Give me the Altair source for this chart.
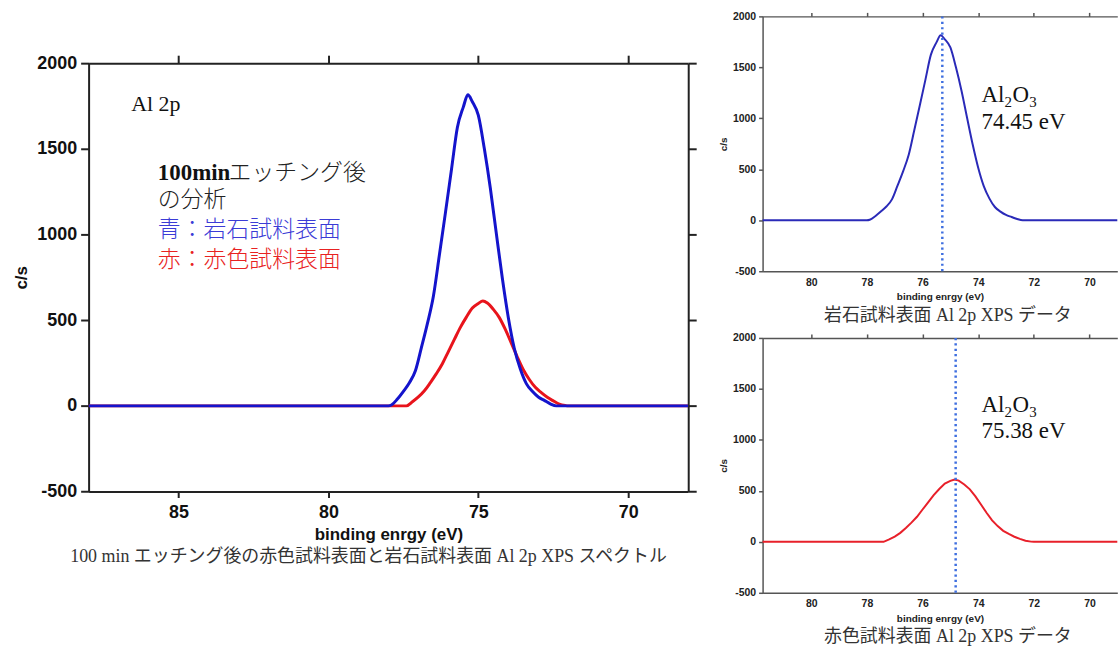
import altair as alt
import pandas as pd

# ---------------- data ----------------
blue_energy = [88.0, 78.0, 77.9, 77.7, 77.5, 77.3, 77.1, 76.9, 76.7, 76.5,
               76.3, 76.1, 75.9, 75.7, 75.5, 75.35, 75.2, 75.0, 74.8, 74.6,
               74.4, 74.2, 74.0, 73.8, 73.6, 73.4, 73.2, 73.0, 72.8, 72.6,
               72.4, 68.0]
blue_counts = [0, 0, 5, 40, 85, 135, 205, 340, 480, 640,
               880, 1125, 1375, 1625, 1745, 1815, 1775, 1695, 1500, 1270,
               1005, 745, 515, 335, 215, 130, 85, 52, 32, 12,
               0, 0]
red_energy = [88.0, 77.4, 77.2, 77.0, 76.8, 76.6, 76.4, 76.2, 76.0, 75.8,
              75.6, 75.4, 75.2, 75.0, 74.85, 74.7, 74.5, 74.3, 74.1, 73.9,
              73.7, 73.5, 73.3, 73.1, 72.9, 72.7, 72.5, 72.3, 72.1, 72.0,
              68.0]
red_counts = [0, 0, 24, 52, 88, 136, 188, 246, 317, 388,
              458, 518, 571, 598, 612, 600, 563, 515, 446, 366,
              285, 211, 154, 108, 77, 50, 29, 10, 2, 0,
              0]

main_x_ticks = [70, 75, 80, 85]
small_x_ticks = [70, 72, 74, 76, 78, 80]
y_ticks = [-500, 0, 500, 1000, 1500, 2000]

main_caption = "100 min エッチング後の赤色試料表面と岩石試料表面 Al 2p XPS スペクトル"
top_caption = "岩石試料表面 Al 2p XPS データ"
bottom_caption = "赤色試料表面 Al 2p XPS データ"

# annotation texts and their anchor positions (data coordinates)
main_note_text = ["Al 2p", "100min", "エッチング後", "の分析", "青：岩石試料表面", "赤：赤色試料表面"]
main_note_energy = [86.58, 85.69, 83.33, 85.69, 85.69, 85.69]
main_note_counts = [1721, 1318, 1318, 1162, 987, 813]

peak_line_energy = [75.29, 74.81]           # dotted markers (top, bottom panel)
peak_label_text = ["74.45 eV", "75.38 eV"]
peak_label_energy = [73.88, 73.88]
formula_counts = [1160, 1277]
ev_counts = [900, 1023]

# ---------------- styling ----------------
SANS = "Liberation Sans, Arial, sans-serif"
SERIF = "Liberation Serif, Noto Sans CJK JP, serif"
AX = "#222222"
AX2 = "#555555"
PLAIN = "'' + datum.value"

blue_df = pd.DataFrame({"energy": blue_energy, "counts": blue_counts})
red_df = pd.DataFrame({"energy": red_energy, "counts": red_counts})

# ---------------- main (left) panel ----------------
main_xs = alt.Scale(domain=[68.0, 88.0], reverse=True, nice=False, zero=False)
main_ys = alt.Scale(domain=[-500, 2000], nice=False, zero=False)

main_xaxis = alt.Axis(values=main_x_ticks, title="binding enrgy (eV)", grid=False, labelExpr=PLAIN,
                      titleFont=SANS, titleFontSize=17, titleFontWeight="bold", titleColor="#111",
                      titlePadding=5, labelFont=SANS, labelFontSize=18, labelFontWeight="bold",
                      labelColor="#111", labelPadding=6, tickSize=6, tickWidth=2, tickColor=AX,
                      domainColor=AX, domainWidth=2, labelFlush=False)
main_yaxis = alt.Axis(values=y_ticks, title="c/s", grid=False, labelExpr=PLAIN,
                      titleFont=SANS, titleFontSize=17, titleFontWeight="bold", titleColor="#111",
                      titlePadding=6, labelFont=SANS, labelFontSize=18, labelFontWeight="bold",
                      labelColor="#111", labelPadding=4, tickSize=8, tickWidth=2, tickColor=AX,
                      domainColor=AX, domainWidth=2, labelFlush=False)


def enc_main(ch, field_x="energy:Q", field_y="counts:Q"):
    return ch.encode(x=alt.X(field_x, scale=main_xs, axis=main_xaxis),
                     y=alt.Y(field_y, scale=main_ys, axis=main_yaxis))


red_main = enc_main(alt.Chart(red_df).mark_line(color="#e8141c", strokeWidth=3, clip=True,
                                                interpolate="monotone"))
blue_main = enc_main(alt.Chart(blue_df).mark_line(color="#1414cc", strokeWidth=3, clip=True,
                                                  interpolate="monotone"))

note_styles = [
    dict(font=SERIF, fontSize=22, fontWeight="normal", color="#111"),
    dict(font=SERIF, fontSize=23, fontWeight="bold", color="#111"),
    dict(font=SERIF, fontSize=23, fontWeight=300, color="#222"),
    dict(font=SERIF, fontSize=23, fontWeight=300, color="#222"),
    dict(font=SERIF, fontSize=23, fontWeight=300, color="#3b3bd6"),
    dict(font=SERIF, fontSize=23, fontWeight=300, color="#e82222"),
]
note_layers = []
for t, e, c, st in zip(main_note_text, main_note_energy, main_note_counts, note_styles):
    d = pd.DataFrame({"energy": [e], "counts": [c], "label": [t]})
    note_layers.append(enc_main(alt.Chart(d).mark_text(align="left", baseline="alphabetic", **st))
                       .encode(text="label:N"))

main_frame = alt.Chart(blue_df).mark_line(opacity=0, clip=True).encode(
    x=alt.X("energy:Q", scale=alt.Scale(domain=[68.0, 88.0], reverse=True, nice=False, zero=False),
            axis=alt.Axis(orient="top", values=main_x_ticks, labels=False, grid=False, title=None,
                          tickSize=8, tickWidth=2, tickColor=AX, domainColor=AX, domainWidth=2)),
    y=alt.Y("counts:Q", scale=alt.Scale(domain=[-500, 2000], nice=False, zero=False),
            axis=alt.Axis(orient="right", values=y_ticks, labels=False, grid=False, title=None,
                          tickSize=8, tickWidth=2, tickColor=AX, domainColor=AX, domainWidth=2)),
)

main_panel = alt.layer(
    alt.layer(red_main, blue_main, *note_layers),
    main_frame,
).resolve_scale(x="independent", y="independent").properties(
    width=602.3, height=430.3,
    title=alt.TitleParams(text=main_caption, orient="bottom", anchor="middle", font=SERIF,
                          fontSize=18, fontWeight="normal", color="#333", offset=6, dx=-20),
)

# invisible spacer that pushes the big panel down below the top of the right column
spacer = alt.Chart(pd.DataFrame({"energy": [78.0], "counts": [0]})).mark_point(
    opacity=0, size=1).encode(
    x=alt.X("energy:Q", axis=None), y=alt.Y("counts:Q", axis=None)
).properties(width=20, height=38)

left_col = alt.vconcat(spacer, main_panel, spacing=0)

# ---------------- small (right) panels ----------------


def small_panel(df, color, idx, caption, interp):
    xs = alt.Scale(domain=[69.0, 81.75], reverse=True, nice=False, zero=False)
    ys = alt.Scale(domain=[-500, 2000], nice=False, zero=False)
    xaxis = alt.Axis(values=small_x_ticks, title="binding enrgy (eV)", grid=False, labelExpr=PLAIN,
                     titleFont=SANS, titleFontSize=10, titleFontWeight="bold", titleColor="#222",
                     titlePadding=4, labelFont=SANS, labelFontSize=10.5, labelFontWeight="bold",
                     labelColor="#222", labelPadding=6, ticks=False, domainColor=AX2,
                     domainWidth=1.5, labelFlush=False)
    yaxis = alt.Axis(values=y_ticks, title="c/s", grid=False, labelExpr=PLAIN,
                     titleFont=SANS, titleFontSize=10, titleFontWeight="bold", titleColor="#222",
                     titlePadding=4, labelFont=SANS, labelFontSize=10.5, labelFontWeight="bold",
                     labelColor="#222", labelPadding=3, tickSize=4, tickWidth=1.5, tickColor=AX2,
                     domainColor=AX2, domainWidth=1.5, labelFlush=False)

    def enc(ch, fy="counts:Q"):
        return ch.encode(x=alt.X("energy:Q", scale=xs, axis=xaxis),
                         y=alt.Y(fy, scale=ys, axis=yaxis))

    line = enc(alt.Chart(df).mark_line(color=color, strokeWidth=2, clip=True, interpolate=interp))
    rule_df = pd.DataFrame({"energy": [peak_line_energy[idx]], "counts": [-500], "counts2": [2000]})
    rule = enc(alt.Chart(rule_df).mark_rule(color="#3f6fe0", strokeWidth=2.5, strokeDash=[2.2, 3.2])
               ).encode(y2="counts2:Q")

    e = peak_label_energy[idx]
    fc = formula_counts[idx]
    parts = [("Al", 23, 0, 0), ("2", 15, 23, 5), ("O", 23, 31, 0), ("3", 15, 48, 5)]
    texts = []
    for s, fs, dx, dy in parts:
        d = pd.DataFrame({"energy": [e], "counts": [fc], "label": [s]})
        texts.append(enc(alt.Chart(d).mark_text(align="left", baseline="alphabetic", font=SERIF,
                                                fontSize=fs, dx=dx, dy=dy, color="#111"))
                     .encode(text="label:N"))
    d = pd.DataFrame({"energy": [e], "counts": [ev_counts[idx]], "label": [peak_label_text[idx]]})
    texts.append(enc(alt.Chart(d).mark_text(align="left", baseline="alphabetic", font=SERIF,
                                            fontSize=23, color="#111")).encode(text="label:N"))

    frame = alt.Chart(df).mark_line(opacity=0, clip=True).encode(
        x=alt.X("energy:Q", scale=alt.Scale(domain=[69.0, 81.75], reverse=True, nice=False, zero=False),
                axis=alt.Axis(orient="top", values=small_x_ticks, labels=False, grid=False, title=None,
                              tickSize=4, tickWidth=1.5, tickColor=AX2, domainColor=AX2,
                              domainWidth=1.5)),
        y=alt.Y("counts:Q", scale=alt.Scale(domain=[-500, 2000], nice=False, zero=False), axis=None),
    )
    return alt.layer(alt.layer(line, rule, *texts), frame).resolve_scale(
        x="independent", y="independent").properties(
        width=356.3, height=256,
        title=alt.TitleParams(text=caption, orient="bottom", anchor="middle", font=SERIF,
                              fontSize=18, fontWeight="normal", color="#333", offset=5, dx=8),
    )


top_panel = small_panel(blue_df, "#2a2ab8", 0, top_caption, "monotone")
bottom_panel = small_panel(red_df, "#e8202a", 1, bottom_caption, "linear")

right_col = alt.vconcat(top_panel, bottom_panel, spacing=8)

chart = alt.hconcat(left_col, right_col, spacing=20).properties(
    padding={"left": 12, "top": 10, "right": 0, "bottom": 0},
    background="white",
).configure_view(stroke=None)

chart.save("out.html", embed_options={"renderer": "svg", "actions": False})
